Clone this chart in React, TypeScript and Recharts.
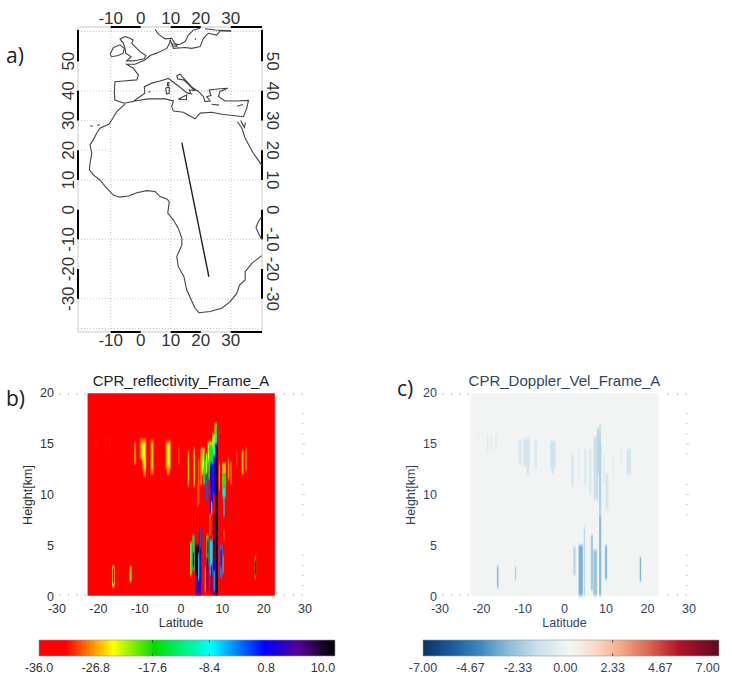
import React from "react";
import { ScatterChart, Scatter, XAxis, YAxis, ReferenceArea, ReferenceLine } from "recharts";

// map data, lon / lat pairs
type Pt = [number, number];
const africaCoast: Pt[] = [
  [-5.2, 35.6], [-8, 33], [-9.3, 30.8], [-10.5, 28.8], [-13.6, 27.4], [-14.7, 25.7], [-15.8, 23.5], [-16.9, 21.8],
  [-16.3, 19], [-16.9, 15.6], [-17.1, 13.4], [-15.8, 11.7], [-13.6, 10], [-11.3, 7.2], [-9.1, 4.9], [-7.1, 4.2],
  [-4.1, 4.6], [-1.3, 5.7], [2, 6.4], [4.8, 6.1], [6.4, 4.4], [8.7, 3.6], [9.5, 2.7], [9, -1.2], [10.9, -3.5],
  [12.5, -6.3], [13.7, -9.6], [13.7, -11.9], [12, -15.8], [12.5, -19.2], [14.4, -22.6], [15.3, -27], [18.1, -33.2],
  [19.4, -34.7], [23.1, -34.3], [27, -33.2], [29.8, -31], [32, -28.2], [32.9, -25.4], [34.8, -23.7], [34.8, -20.9],
  [37, -18.1], [40.3, -15.5],
];
const medCoast: Pt[] = [
  [-5.5, 35.8], [-2.5, 36.4], [-0.2, 38.1], [1.4, 39.2], [1.2, 41.4], [3.7, 42.6], [6.4, 43.3], [9.2, 44.2],
  [10.9, 42.9], [13.1, 41.2], [15.3, 39.4], [16.8, 39], [16.1, 40.3], [17.9, 40.1], [15.9, 42.2], [14.2, 43.7],
  [12.3, 44], [12, 45.1], [13.1, 45.6], [14.8, 43.7], [17.2, 41.1], [19.2, 39.8], [20.9, 38.1], [21.4, 36.4],
  [23.1, 36.6], [22, 38.1], [23.4, 38.4], [22.8, 40.3], [26.4, 40.7], [29, 40.9], [26.4, 39.8], [25.9, 38.1],
  [28.1, 36.6], [32, 36.6], [35.9, 36.8], [35.3, 34.1], [34.2, 31.3], [27, 32.1], [23.7, 32.8], [19.8, 32.5],
  [18.1, 30.6], [14.2, 32.8], [10.9, 33.2], [10.3, 34.7], [10.9, 36.6], [8.1, 37.3], [2.5, 37.3], [-1.9, 36.6], [-5.5, 35.8],
];
const atlanticEurope: Pt[] = [
  [-5.5, 35.8], [-8.6, 36.9], [-8.8, 39.2], [-8.6, 43.1], [-5.8, 43.3], [-1.3, 43.7], [-0.8, 45.4], [-2.5, 47.6],
  [-4.7, 48.96], [-1.9, 48.96], [1.4, 50.4], [3.1, 51.9], [5.3, 52.7], [8.7, 54.3], [9.6, 56], [9.8, 57.1], [10.3, 56],
  [10.9, 54.3], [14.8, 54.6], [17, 54.3], [19.8, 54.9], [20.9, 57.7], [22.5, 59.4], [25.3, 58.8], [26.4, 60.2], [30.1, 60.2],
];
const britain: Pt[] = [
  [-5.2, 58.3], [-3.6, 57.7], [-2.5, 57.1], [-3, 56], [-1.3, 54.3], [-0.2, 53.2], [1.7, 51.9], [1.2, 50.8], [-0.8, 50.4],
  [-2.5, 50.1], [-4.7, 50.1], [-3.2, 51.5], [-5, 52.7], [-5.2, 54.3], [-5.8, 56], [-6.9, 57.5], [-5.2, 58.3],
];
const ireland: Pt[] = [[-10.2, 52.3], [-9.1, 54.6], [-6.9, 55.5], [-5.5, 54.3], [-5.8, 52.7], [-7.5, 51.9], [-9.7, 51.5], [-10.2, 52.3]];
const scandinavia: Pt[] = [[4.8, 60.7], [5.9, 59.1], [8.1, 57.5], [10.3, 57.7], [11.7, 55.5], [13.1, 55.7], [14.8, 56.6], [15.9, 58.8], [17.6, 60.5], [19.8, 61.1]];
const finland: Pt[] = [[21.4, 60.9], [24.8, 60.5], [30.1, 60.2]];
const redSea: Pt[] = [[32.2, 29.6], [33.7, 27.4], [34.8, 24], [37.5, 19], [40.3, 15]];
const sinai: Pt[] = [[33.3, 30], [34.5, 27.7], [34.9, 29.3]];
const tanzania: Pt[] = [[40.3, -2.4], [39.2, -4], [38.4, -6], [39.5, -8.5], [40.3, -10]];
const sicily: Pt[] = [[12.5, 37.2], [15.3, 38.6], [15.2, 37], [12.5, 37.2]];
const sardinia: Pt[] = [[8.3, 41], [9.5, 41.2], [9.5, 39.2], [8.6, 39], [8.3, 41]];
const corsica: Pt[] = [[8.9, 42.8], [9.4, 42.8], [9.3, 41.6], [8.9, 41.7], [8.9, 42.8]];
const crete: Pt[] = [[23.6, 35.5], [26.1, 35.2]];
const cyprus: Pt[] = [[32.1, 34.8], [34, 35.4], [32.1, 34.8]];
const balearic: Pt[] = [[2.5, 39.6], [3.2, 39.7]];
const gotland: Pt[] = [[18.1, 57.7], [18.3, 57.2]];
const zealand: Pt[] = [[10.5, 55.8], [12, 55.8], [12, 55], [10.5, 55.2], [10.5, 55.8]];
const canary1: Pt[] = [[-16.8, 28.2], [-16, 28.1]];
const canary2: Pt[] = [[-14.5, 28.3], [-13.7, 28.7]];
const coastLines = [africaCoast, medCoast, atlanticEurope, britain, ireland, scandinavia, finland, redSea, sinai, tanzania,
  sicily, sardinia, corsica, crete, cyprus, balearic, gotland, zealand, canary1, canary2];
const trackLine: Pt[] = [[13.7, 22.6], [22.7, -22.6]];

const mapLonTicks = [-10, 0, 10, 20, 30];
const mapLatTicks = [50, 40, 30, 20, 10, 0, -10, -20, -30];
const mapLonBars: Pt[] = [[-10, 0], [10, 20], [30, 40.4]];
const mapLatBars: Pt[] = [[50, 60.5], [30, 40], [10, 20], [-10, 0], [-30, -20]];
const mapGridLons = [-10, 10, 30];
const mapGridLats = [60, 40, 10, -10, -30, -40];
const mapPartialLats = [30, 20];

// lat, width, z bottom, z top, dBZ
type HeatCell = [number, number, number, number, number];
const reflectivityCells: HeatCell[] = [
  // faint cirrus and anvil pieces
  [-20.6, 0.2, 14.5, 15.8, -31], [-18.2, 0.2, 14.3, 15.8, -31], [-17.2, 0.2, 14.5, 15.8, -31],
  [-11.1, 0.5, 13, 15.2, -27.5], [-9.2, 1.6, 13.5, 15.5, -28], [-8.9, 1, 12.5, 13.6, -27.5], [-8.8, 0.6, 11.8, 12.7, -28],
  [-9.1, 0.9, 13.4, 15.1, -24], [-8.8, 0.5, 12.4, 13.5, -24.5],
  [-7, 0.8, 12, 15.4, -28], [-7, 0.35, 12.5, 15, -24.5], [-3.1, 1.3, 12.5, 15.3, -28], [-3.1, 0.7, 12, 13, -27], [-3.1, 0.75, 12.8, 15, -24],
  [-0.5, 0.25, 13, 14.7, -29], [1.8, 0.4, 10.8, 14.3, -27], [1.8, 0.18, 11.5, 13.5, -20],
  [3.2, 0.4, 10.8, 14.6, -27], [3.2, 0.15, 11.5, 14, -22], [4.3, 0.25, 9, 13.5, -28], [4.9, 0.4, 11, 14.5, -27],
  [5.3, 0.9, 13.2, 14.6, -26], [5.5, 0.9, 12, 13.4, -24], [5.6, 0.5, 11, 12.6, -18], [5.7, 0.25, 12, 14, -18],
  [6.2, 0.3, 12, 14, -22], [6.2, 0.3, 9.5, 12, -3],
  // main tower
  [7.1, 1.3, 13, 15.2, -24], [6.9, 0.6, 11.5, 13.5, -18], [7.3, 1, 12.5, 15, -15], [7.5, 0.9, 10, 13.2, -4], [7.4, 0.6, 9, 13, 1],
  [7.2, 0.4, 8.2, 9.6, 3], [7.1, 0.25, 10.5, 12.5, 6], [7.4, 0.3, 8, 9.3, -10],
  [8, 0.9, 14.5, 16, -22], [8.1, 0.7, 13.5, 15, -8], [8.1, 0.6, 10, 13.8, 2], [8.4, 0.6, 15.6, 17, -21], [8.5, 0.35, 15.8, 16.8, -17],
  [8.4, 0.5, 14.8, 15.8, -8], [8.55, 0.55, 9, 15, 8], [8.55, 0.55, 0.1, 9, 7], [8.7, 0.3, 0.1, 14.6, 11.5],
  [9.3, 0.25, 10.5, 13, -25],
  [10.4, 0.9, 12, 13.1, -26], [10.4, 1, 10.8, 12, -18.5], [10.4, 0.8, 9.7, 10.8, -10], [10.4, 0.3, 7.8, 9.7, -7],
  [11.5, 0.35, 11.5, 13.5, -27], [12.1, 0.3, 11, 13.2, -28], [13.5, 0.25, 12.9, 14.3, -29],
  [14.9, 0.45, 12, 14.3, -26], [15.7, 0.4, 12.3, 14.6, -28], [10.4, 0.2, 5.5, 6.5, -27],
  [4, 0.2, 8.8, 11, -17], [4.5, 0.2, 6.5, 8.2, 5], [7, 0.2, 6, 8, -24],
  // low level columns
  [-16.4, 0.6, 0.9, 2.9, -24], [-16.4, 0.3, 1.2, 2.7, 4], [-12.2, 0.45, 1.4, 2.9, -25], [-12.2, 0.18, 1.8, 2.7, -18],
  [18, 0.35, 1.7, 3.9, -18], [18, 0.22, 2, 3.5, 5],
  [2.4, 0.45, 2, 5.3, -20], [2.4, 0.22, 3.5, 5, -10], [3, 0.55, 2.5, 6, -14], [3, 0.28, 2.8, 4.3, 3],
  [4, 1.1, 0.1, 1.8, 4.5], [3.9, 0.9, 1.8, 5, 10], [4.2, 0.2, 1.5, 4.2, -8], [4.7, 0.4, 0.1, 6.4, 3], [4.7, 0.22, 4.8, 6.6, -3],
  [5.9, 0.3, 0.4, 2.8, -26], [6.4, 0.55, 3, 6, -14], [6.4, 0.45, 0.5, 3.8, 5], [6.5, 0.25, 4, 5.5, 8],
  [7.3, 0.7, 2, 5.5, -7], [7.4, 0.4, 0.3, 3, 5], [8, 0.6, 0.1, 3.5, 3], [8, 0.35, 3.5, 8, 9], [8, 0.25, 0.4, 2.5, -10],
  [9.7, 0.7, 1.8, 5, -4], [9.7, 0.3, 2.8, 4.6, 2], [10.2, 0.2, 2.2, 4, -27],
];

const velocityCells: HeatCell[] = [
  [-20.8, 0.25, 15.3, 16, -0.6], [-18.5, 0.3, 14.3, 15.9, -0.7], [-17.6, 0.3, 14.4, 15.9, -0.7], [-16.5, 0.3, 14.4, 15.9, -0.7],
  [-10.7, 0.7, 13, 15.5, -0.8], [-9.1, 1.6, 12.8, 15.5, -1], [-8.8, 0.7, 12, 13, -1], [-6.9, 0.6, 12.5, 15.3, -0.7], [-4.9, 0.2, 13, 14.5, -0.5],
  [-2.8, 1.3, 12.6, 15.3, -1.2], [-2.8, 0.7, 12, 12.8, -1.1], [1.9, 0.4, 10.8, 14, -1.3], [3.4, 0.2, 11, 15, -0.6], [5, 0.5, 11, 14.5, -0.8],
  [6.2, 0.5, 10, 14.5, -0.8], [7.6, 1.2, 9.5, 15.7, -1.4], [8.3, 1, 12, 16.5, -1.7], [8.6, 0.5, 16, 17, -1.3], [8.6, 0.55, 8, 15, -1.9],
  [8.6, 0.55, 0, 8, -2.7],
  [10.2, 0.8, 8.5, 12, -0.9], [9.5, 0.4, 11, 14, -0.6], [11.7, 0.3, 11.5, 14, -0.5], [13.6, 0.3, 12.8, 14.7, -0.6],
  [15.5, 1.1, 12, 14.5, -1],
  [-16.1, 0.4, 0.8, 2.9, -2.8], [-11.8, 0.35, 1.5, 2.9, -1.9], [18.3, 0.35, 1.4, 3.8, -3],
  [2.4, 0.6, 2, 4.8, -1.7], [3.9, 1, 0, 5, -3.1], [4.8, 0.35, 0, 6.8, -1.7], [6.6, 0.55, 0.5, 6, -2.2],
  [7.4, 0.9, 0, 4.5, -2.4], [10, 0.55, 1.6, 5, -2.8],
];

// colour scales
const reflectivityStopValues = [-36, -31.7, -24, -17.3, -8.2, 0.5, 6.2, 11.5];
const reflectivityStopColors = ["#ff0000", "#ff0000", "#ffff00", "#00dd00", "#00ffff", "#0000ff", "#580090", "#000000"];
const velocityStopValues = [-7, -5.6, -4.2, -2.8, -1.4, 0.25, 1.4, 2.8, 4.2, 5.6, 7.56];
const velocityStopColors = ["#0a3468", "#1c5a9c", "#3d88bf", "#8abcd9", "#c9e0ec", "#f6f6f4", "#f9dccb", "#f2a786", "#d9604c", "#b3132a", "#5e0a20"];
const reflectivityBarTicks = [-36, -26.8, -17.6, -8.4, 0.8, 10];
const velocityBarTicks = [-7, -4.67, -2.33, 0, 2.33, 4.67, 7];
const latTicks = [-30, -20, -10, 0, 10, 20, 30];
const heightTicks = [0, 5, 10, 15, 20];
const minorLats = [-29.3, -27.2, -25.2, -23.2, 25, 27.2, 29.3];
const minorHeights = [18, 17, 16, 15, 14, 11, 10, 9, 8, 4, 3, 2, 1];

function hexToRgb(hex: string) {
  return [1, 3, 5].map((i) => parseInt(hex.slice(i, i + 2), 16));
}

function colorFor(v: number, values: number[], colors: string[]) {
  for (let i = 1; i < values.length; i++) {
    if (v <= values[i]) {
      const t = Math.max(0, (v - values[i - 1]) / (values[i] - values[i - 1]));
      const a = hexToRgb(colors[i - 1]);
      const b = hexToRgb(colors[i]);
      return `rgb(${a.map((c, k) => Math.round(c + (b[k] - c) * t)).join(",")})`;
    }
  }
  return colors[colors.length - 1];
}

const toPoints = (line: Pt[]) => line.map(([lon, lat]) => ({ lon, lat }));
const noDot = () => <g />;
const SANS = "'Liberation Sans', Arial, sans-serif";
const NAVY = "#2f4565";
const INK = "#333";

function MapPanel() {
  const ids = { xAxisId: "bottom", yAxisId: "left" };
  return (
    <div style={{ position: "absolute", left: 0, top: 0 }}>
      <ScatterChart width={300} height={350} margin={{ left: 58, right: 18, top: 7, bottom: 3 }}>
        <XAxis xAxisId="bottom" dataKey="lon" type="number" domain={[-20.9, 40.4]} ticks={mapLonTicks} interval={0} height={15} axisLine={false} tickLine={false}
          tick={(p: any) => <text x={p.x} y={346} textAnchor="middle" fontSize={17} fontFamily={SANS} fill={INK}>{p.payload.value}</text>} />
        <XAxis xAxisId="top" dataKey="lon" orientation="top" type="number" domain={[-20.9, 40.4]} ticks={mapLonTicks} interval={0} height={20} axisLine={false} tickLine={false}
          tick={(p: any) => <text x={p.x} y={24} textAnchor="middle" fontSize={17} fontFamily={SANS} fill={INK}>{p.payload.value}</text>} />
        <YAxis yAxisId="left" dataKey="lat" type="number" domain={[-41.2, 61.5]} ticks={mapLatTicks} interval={0} width={20} axisLine={false} tickLine={false}
          tick={(p: any) => <text transform={`rotate(-90 74 ${p.y})`} x={74} y={p.y} textAnchor="middle" fontSize={17} fontFamily={SANS} fill={INK}>{p.payload.value}</text>} />
        <YAxis yAxisId="right" dataKey="lat" orientation="right" type="number" domain={[-41.2, 61.5]} ticks={mapLatTicks} interval={0} width={20} axisLine={false} tickLine={false}
          tick={(p: any) => <text transform={`rotate(90 267 ${p.y})`} x={267} y={p.y} textAnchor="middle" fontSize={17} fontFamily={SANS} fill={INK}>{p.payload.value}</text>} />
        <ReferenceArea {...ids} x1={-20.9} x2={40.4} y1={-41.2} y2={61.5} fill="none" stroke="#dcdcdc" strokeWidth={1.5} />
        {mapGridLons.map((lon) => (
          <ReferenceLine key={`glon${lon}`} {...ids} segment={[{ x: lon, y: -41.2 }, { x: lon, y: 61.5 }]} stroke="#c4c4c4" strokeDasharray="1 2" />
        ))}
        {mapGridLats.map((lat) => (
          <ReferenceLine key={`glat${lat}`} {...ids} segment={[{ x: -20.9, y: lat }, { x: 40.4, y: lat }]} stroke="#c4c4c4" strokeDasharray="1 2" />
        ))}
        {mapPartialLats.map((lat) => (
          <ReferenceLine key={`plat${lat}`} {...ids} segment={[{ x: -20.9, y: lat }, { x: -10, y: lat }]} stroke="#cfcfcf" strokeDasharray="1 2" />
        ))}
        {coastLines.map((line, i) => (
          <Scatter key={i} {...ids} data={toPoints(line)} line={{ stroke: "#444", strokeWidth: 1.1 }} shape={noDot} isAnimationActive={false} />
        ))}
        <Scatter {...ids} data={toPoints(trackLine)} line={{ stroke: "#222", strokeWidth: 1.4 }} shape={noDot} isAnimationActive={false} />
        {/* keeps the top and right axes drawn */}
        <Scatter xAxisId="top" yAxisId="right" data={toPoints(trackLine)} shape={noDot} isAnimationActive={false} />
        {mapLonBars.map(([a, b]) => [61.5, -41.2].map((lat) => (
          <ReferenceLine key={`bx${a}${lat}`} {...ids} ifOverflow="visible" segment={[{ x: a, y: lat }, { x: b, y: lat }]} stroke="#000" strokeWidth={2} />
        )))}
        {mapLatBars.map(([a, b]) => [-20.9, 40.4].map((lon) => (
          <ReferenceLine key={`by${a}${lon}`} {...ids} ifOverflow="visible" segment={[{ x: lon, y: a }, { x: lon, y: b }]} stroke="#000" strokeWidth={2} />
        )))}
      </ScatterChart>
    </div>
  );
}

type HeatProps = {
  left: number;
  plotWidth: number;
  title: string;
  ink: string;
  frameFill: string;
  cells: HeatCell[];
  values: number[];
  colors: string[];
  blurId: string;
  heightLabelX: number;
};

function HeatPanel({ left, plotWidth, title, ink, frameFill, cells, values, colors, blurId, heightLabelX }: HeatProps) {
  const plotLeft = 50;
  const centre = plotLeft + plotWidth / 2;
  const anchors = cells.map(([lat, , z0]) => ({ lat, z: z0 }));
  return (
    <div style={{ position: "absolute", left, top: 365 }}>
      <ScatterChart width={340} height={270} margin={{ left: 15, right: 340 - plotLeft - plotWidth, top: 28.3, bottom: 4.3 }}>
        <defs>
          <filter id={blurId} filterUnits="userSpaceOnUse" x={0} y={0} width={340} height={270}>
            <feGaussianBlur stdDeviation="0.55 1.6" />
          </filter>
        </defs>
        <XAxis dataKey="lat" type="number" domain={[-30, 30]} ticks={latTicks} interval={0} height={35} axisLine={false} tickLine={false}
          tick={(p: any) => <text x={p.x} y={248} textAnchor="middle" fontSize={12.5} fontFamily={SANS} fill={ink}>{p.payload.value}</text>} />
        <YAxis dataKey="z" type="number" domain={[0, 20]} ticks={heightTicks} interval={0} width={35} axisLine={false} tickLine={false}
          tick={(p: any) => <text x={plotLeft - 3} y={p.y + 4 + (10 - p.payload.value) * 0.08} textAnchor="end" fontSize={12.5} fontFamily={SANS} fill={ink}>{p.payload.value}</text>} />
        <ReferenceArea x1={-22.6} x2={22.7} y1={0} y2={20} fill={frameFill} fillOpacity={1} stroke="none" />
        {cells.map(([lat, w, z0, z1, v], i) => (
          <ReferenceArea key={i} x1={lat - w / 2} x2={lat + w / 2} y1={z0} y2={z1} stroke="none"
            shape={(p: any) => <rect x={p.x} y={p.y} width={p.width} height={p.height} fill={colorFor(v, values, colors)} filter={`url(#${blurId})`} />} />
        ))}
        {minorLats.map((lat) => [19.82, 0].map((z) => (
          <ReferenceLine key={`m${lat}${z}`} segment={[{ x: lat, y: z }, { x: lat, y: z + 0.18 }]} stroke="#b5b5b5" />
        )))}
        {minorHeights.map((z) => (
          <ReferenceLine key={`h${z}`} segment={[{ x: 29.2, y: z }, { x: z % 5 === 0 ? 30 : 29.8, y: z }]} stroke="#d4d4d4" />
        ))}
        <Scatter data={anchors} shape={noDot} isAnimationActive={false} />
        <text x={centre} y={21} textAnchor="middle" fontSize={15} fontFamily={SANS} fill={ink === INK ? "#222" : ink}>{title}</text>
        <text x={centre} y={262} textAnchor="middle" fontSize={12.5} fontFamily={SANS} fill={ink}>Latitude</text>
        <text transform={`rotate(-90 ${heightLabelX} 130)`} x={heightLabelX} y={130} textAnchor="middle" fontSize={12.5} fontFamily={SANS} fill={ink}>Height[km]</text>
      </ScatterChart>
    </div>
  );
}

type BarProps = {
  left: number;
  barLeft: number;
  barWidth: number;
  domain: [number, number];
  ticks: number[];
  marked: number[];
  digits: number;
  values: number[];
  colors: string[];
  gradientId: string;
  ink: string;
};

function ColorBar({ left, barLeft, barWidth, domain, ticks, marked, digits, values, colors, gradientId, ink }: BarProps) {
  const anchors = ticks.map((v) => ({ v, w: 0.5 }));
  return (
    <div style={{ position: "absolute", left, top: 635 }}>
      <ScatterChart width={barLeft + barWidth + 10} height={45} margin={{ left: barLeft, right: 10, top: 5, bottom: 4 }}>
        <defs>
          <linearGradient id={gradientId} x1="0" x2="1" y1="0" y2="0">
            {values.map((v, i) => (
              <stop key={i} offset={(v - domain[0]) / (domain[1] - domain[0])} stopColor={colors[i]} />
            ))}
          </linearGradient>
        </defs>
        <XAxis dataKey="v" type="number" domain={domain} ticks={ticks} interval={0} height={20} axisLine={false} tickLine={false}
          tick={(p: any) => <text x={p.x} y={37} textAnchor="middle" fontSize={12.5} fontFamily={SANS} fill={ink}>{p.payload.value.toFixed(digits)}</text>} />
        <YAxis dataKey="w" type="number" domain={[0, 1]} hide />
        <ReferenceArea x1={domain[0]} x2={domain[1]} y1={0} y2={1} fill={`url(#${gradientId})`} fillOpacity={1} stroke="#8f9aa5" strokeWidth={0.6} />
        {marked.map((v) => (
          <ReferenceLine key={v} x={v} stroke="rgba(20,20,20,0.55)" strokeWidth={1} strokeDasharray="3 10 3" />
        ))}
        <Scatter data={anchors} shape={noDot} isAnimationActive={false} />
      </ScatterChart>
    </div>
  );
}

const panelLetter = (text: string, left: number, top: number) => (
  <div style={{ position: "absolute", left, top, fontFamily: "'Open Sans', sans-serif", fontSize: 21, lineHeight: "26px", color: "#222" }}>{text}</div>
);

export default function App() {
  return (
    <div style={{ position: "absolute", left: 0, top: 0, width: 732, height: 682, background: "#fff", overflow: "hidden" }}>
      {panelLetter("a)", 6, 42)}
      {panelLetter("b)", 6, 385)}
      {panelLetter("c)", 397, 375)}
      <MapPanel />
      <HeatPanel left={7} plotWidth={248} title="CPR_reflectivity_Frame_A" ink={INK} frameFill="#ff0000"
        cells={reflectivityCells} values={reflectivityStopValues} colors={reflectivityStopColors} blurId="blurB" heightLabelX={25} />
      <HeatPanel left={390} plotWidth={249} title="CPR_Doppler_Vel_Frame_A" ink={NAVY} frameFill="#f2f4f4"
        cells={velocityCells} values={velocityStopValues} colors={velocityStopColors} blurId="blurC" heightLabelX={25} />
      <ColorBar left={0} barLeft={39} barWidth={296} domain={[-36, 11.94]} ticks={reflectivityBarTicks} marked={[-17.6, -8.4]} digits={1}
        values={reflectivityStopValues} colors={reflectivityStopColors} gradientId="barB" ink={INK} />
      <ColorBar left={390} barLeft={33} barWidth={296} domain={[-7, 7.56]} ticks={velocityBarTicks} marked={[2.33]} digits={2}
        values={velocityStopValues} colors={velocityStopColors} gradientId="barC" ink={NAVY} />
    </div>
  );
}
